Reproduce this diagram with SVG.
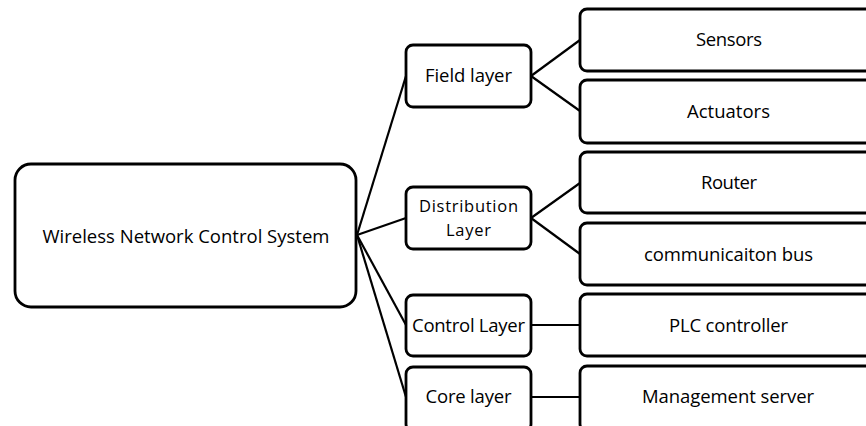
<svg xmlns="http://www.w3.org/2000/svg" width="866" height="426" viewBox="0 0 866 426">
<style>
.box{fill:#fff;stroke:#000;stroke-width:2.8}
.t{font-family:"Open Sans","Liberation Sans",sans-serif;font-size:18.5px;fill:#000;text-anchor:middle}
.c line{stroke:#000;stroke-width:2.2}
</style>
<rect width="866" height="426" fill="#fff"/>
<g class="c" id="connectors">
<line x1="357" y1="235" x2="406" y2="76"/>
<line x1="357" y1="235" x2="406" y2="218"/>
<line x1="357" y1="235" x2="406" y2="325"/>
<line x1="357" y1="235" x2="406" y2="397"/>
<line x1="531" y1="76" x2="580" y2="40"/>
<line x1="531" y1="76" x2="580" y2="111"/>
<line x1="531" y1="218" x2="580" y2="183"/>
<line x1="531" y1="218" x2="580" y2="254"/>
<line x1="531" y1="325" x2="580" y2="325"/>
<line x1="531" y1="397" x2="580" y2="397"/>
</g>
<g id="root"><rect class="box" x="15" y="164" width="341" height="143" rx="16"/><text class="t" x="186" y="243" textLength="287">Wireless Network Control System</text></g>
<g id="field"><rect class="box" x="406" y="45" width="125" height="62" rx="7"/><text class="t" x="468.5" y="82" textLength="87">Field layer</text></g>
<g id="distribution"><rect class="box" x="406" y="187" width="125" height="62" rx="7"/><text class="t" style="font-size:16.5px" x="468.5" y="212" textLength="99">Distribution</text><text class="t" style="font-size:16.5px" x="468.5" y="235.5" textLength="45">Layer</text></g>
<g id="control"><rect class="box" x="406" y="295" width="125" height="61" rx="7"/><text class="t" x="468.5" y="332" textLength="113">Control Layer</text></g>
<g id="core"><rect class="box" x="406" y="367" width="125" height="64" rx="7"/><text class="t" x="468.5" y="403" textLength="86">Core layer</text></g>
<g id="sensors"><rect class="box" x="580" y="9" width="296" height="62" rx="7"/><text class="t" x="729" y="46" textLength="66">Sensors</text></g>
<g id="actuators"><rect class="box" x="580" y="80" width="296" height="63" rx="7"/><text class="t" x="728.5" y="118" textLength="83">Actuators</text></g>
<g id="router"><rect class="box" x="580" y="152" width="296" height="61" rx="7"/><text class="t" x="729" y="189" textLength="56">Router</text></g>
<g id="bus"><rect class="box" x="580" y="223" width="296" height="62" rx="7"/><text class="t" x="728.5" y="261" textLength="169">communicaiton bus</text></g>
<g id="plc"><rect class="box" x="580" y="294" width="296" height="62" rx="7"/><text class="t" x="728.5" y="332" textLength="119">PLC controller</text></g>
<g id="server"><rect class="box" x="580" y="366" width="296" height="65" rx="7"/><text class="t" x="728" y="403" textLength="172">Management server</text></g>
</svg>
